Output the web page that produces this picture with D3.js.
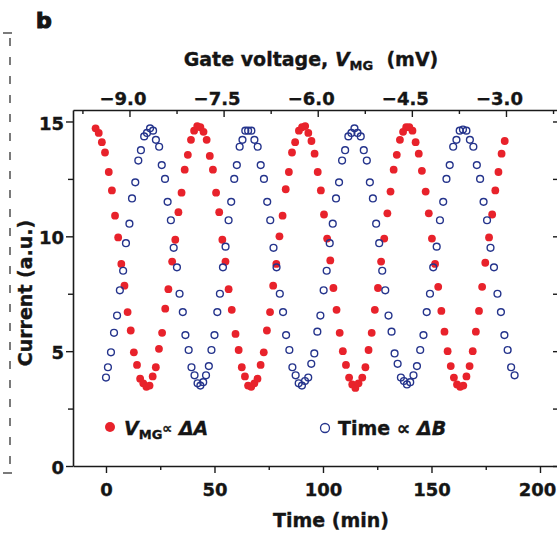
<!DOCTYPE html>
<html>
<head>
<meta charset="utf-8">
<script src="https://cdn.jsdelivr.net/npm/d3@7"></script>
<style>
    body { margin: 0; background: #fff; }
    svg text { font-family: "DejaVu Sans", sans-serif; font-weight: bold; fill: #151515; stroke: #151515; stroke-width: 0.35px; }
</style>
</head>
<body>
<div id="chartDiv"></div>
<script>
// red: current vs gate voltage (top axis), blue: current vs time (bottom axis)
var redGate = [
    -9.54, -9.49, -9.44, -9.39, -9.33, -9.28, -9.23, -9.18, -9.13, -9.08,
    -9.03, -8.98, -8.93, -8.88, -8.83, -8.78, -8.73, -8.68, -8.63, -8.58,
    -8.53, -8.48, -8.43, -8.38, -8.32, -8.27, -8.22, -8.17, -8.12, -8.07,
    -8.02, -7.97, -7.92, -7.87, -7.82, -7.77, -7.72, -7.67, -7.62, -7.57,
    -7.52, -7.47, -7.42, -7.37, -7.31, -7.26, -7.21, -7.16, -7.11, -7.06,
    -7.01, -6.96, -6.91, -6.86, -6.81, -6.76, -6.71, -6.66, -6.61, -6.56,
    -6.51, -6.46, -6.41, -6.36, -6.30, -6.25, -6.20, -6.15, -6.10, -6.05,
    -6.00, -5.95, -5.90, -5.85, -5.80, -5.75, -5.70, -5.65, -5.60, -5.55,
    -5.50, -5.45, -5.40, -5.35, -5.29, -5.24, -5.19, -5.14, -5.09, -5.04,
    -4.99, -4.94, -4.89, -4.84, -4.79, -4.74, -4.69, -4.64, -4.59, -4.54,
    -4.49, -4.44, -4.39, -4.34, -4.28, -4.23, -4.18, -4.13, -4.08, -4.03,
    -3.98, -3.93, -3.88, -3.83, -3.78, -3.73, -3.68, -3.63, -3.58, -3.53,
    -3.48, -3.43, -3.38, -3.33, -3.27, -3.22, -3.17, -3.12, -3.07, -3.02
];
var redCurrent = [
    14.7, 14.5, 14.1, 13.65, 12.8, 12.0, 10.9, 9.95, 8.8, 7.85, 6.7, 5.9, 4.95, 4.4, 3.8, 3.6, 3.45,
    3.5, 3.9, 4.3, 5.1, 5.8, 6.85, 7.7, 8.9, 9.85, 11.05, 11.9, 12.9, 13.55, 14.2, 14.6, 14.8,
    14.75, 14.55, 14.2, 13.5, 12.9, 11.9, 11.05, 9.85, 8.9, 7.7, 6.8, 5.75, 5.05, 4.3, 3.9, 3.5, 3.45,
    3.6, 3.8, 4.4, 4.95, 5.9, 6.7, 7.85, 8.8, 10.0, 10.9, 12.05, 12.8, 13.65, 14.1, 14.6, 14.75,
    14.8, 14.5, 14.15, 13.6, 12.8, 12.0, 10.95, 9.9, 8.95, 7.75, 6.8, 5.8, 5.0, 4.4, 3.85, 3.55, 3.4,
    3.6, 3.85, 4.3, 5.05, 5.8, 6.8, 7.75, 8.9, 9.9, 11.0, 11.95, 12.9, 13.55, 14.2, 14.55, 14.75,
    14.75, 14.6, 14.1, 13.6, 12.85, 11.95, 11.0, 9.9, 8.8, 7.8, 6.75, 5.85, 5.0, 4.35, 3.85, 3.55, 3.45,
    3.5, 3.9, 4.35, 5.0, 5.85, 6.75, 7.8, 8.85, 9.95, 10.95, 12.0, 12.8, 13.6, 14.15
];
var blueTime = [
    0.0, 0.9, 2.3, 3.7, 5.1, 6.4, 7.9, 9.2, 10.8, 12.0, 13.5, 14.9, 16.1, 17.6, 18.9, 20.3,
    21.7, 23.0, 24.5, 25.7, 27.2, 28.4, 29.9, 31.2, 32.7, 33.9, 35.4, 36.6, 38.1, 39.4, 40.8, 42.2, 43.5,
    44.8, 46.1, 47.4, 48.6, 50.0, 51.3, 52.5, 53.9, 55.1, 56.5, 57.7, 59.1, 60.3, 61.6, 62.9, 64.2, 65.5,
    67.0, 68.4, 69.9, 71.3, 72.8, 74.3, 75.7, 77.2, 78.6, 80.1, 81.6, 83.0, 84.5, 85.9, 87.4, 88.8, 90.3,
    91.7, 93.2, 94.6, 96.0, 97.4, 98.8, 100.3, 101.7, 103.1, 104.5, 106.0, 107.4, 108.8, 110.2, 111.7, 113.1, 114.5,
    115.9, 117.4, 118.8, 120.2, 121.6, 123.0, 124.5, 125.9, 127.3, 128.7, 130.2, 131.6, 133.0, 134.4, 135.9, 137.3, 138.7,
    140.2, 141.7, 143.3, 144.8, 146.3, 147.8, 149.3, 150.8, 152.4, 153.9, 155.4, 156.9, 158.4, 160.0, 161.5, 163.0, 164.5,
    166.1, 167.7, 169.3, 170.9, 172.4, 174.0, 175.6, 177.2, 178.8, 180.4, 182.0, 183.6, 185.1, 186.7, 188.3
];
var blueCurrent = [
    3.85, 4.3, 4.95, 5.8, 6.55, 7.65, 8.5, 9.7, 10.55, 11.65, 12.35, 13.3, 13.75, 14.35, 14.5, 14.7,
    14.6, 14.2, 13.9, 13.1, 12.5, 11.5, 10.7, 9.5, 8.65, 7.5, 6.7, 5.7, 5.05, 4.3, 3.95, 3.6, 3.5,
    3.65, 3.95, 4.35, 5.05, 5.7, 6.7, 7.5, 8.65, 9.55, 10.7, 11.5, 12.5, 13.1, 13.9, 14.2, 14.6, 14.6,
    14.6, 14.2, 13.9, 13.1, 12.5, 11.5, 10.7, 9.5, 8.65, 7.5, 6.7, 5.7, 5.05, 4.3, 3.95, 3.6, 3.5,
    3.7, 3.85, 4.45, 4.9, 5.85, 6.55, 7.65, 8.5, 9.7, 10.55, 11.65, 12.35, 13.3, 13.75, 14.35, 14.5, 14.7,
    14.5, 14.35, 13.75, 13.3, 12.35, 11.65, 10.55, 9.7, 8.5, 7.65, 6.55, 5.85, 4.9, 4.45, 3.85, 3.7, 3.55,
    3.65, 3.95, 4.35, 5.05, 5.7, 6.7, 7.5, 8.65, 9.55, 10.7, 11.5, 12.5, 13.1, 13.9, 14.2, 14.6, 14.65,
    14.6, 14.2, 13.9, 13.1, 12.5, 11.5, 10.7, 9.5, 8.65, 7.5, 6.7, 5.7, 5.05, 4.3, 3.95
];

var timeTicks = [0, 50, 100, 150, 200];
var timeMinor = [25, 75, 125, 175];
var gateTicks = [-9.0, -7.5, -6.0, -4.5, -3.0];
var gateMinor = [-9.75, -8.25, -6.75, -5.25, -3.75, -2.25];
var currentTicks = [0, 5, 10, 15];
var currentMinor = [2.5, 7.5, 12.5];
var rightTicks = [0, 2.5, 5, 7.5, 10, 12.5, 15];

var width = 557, height = 534;
var plot = {left: 73, right: 558, top: 110, bottom: 466};
var axisColor = '#1a1a1a';
var redColor = '#e8222b';
var blueColor = '#25348c';

var x, xGate, y;

function gen_scales() {
    x = d3.scaleLinear().domain([-15.2, 208.3]).range([plot.left, plot.right]);
    xGate = d3.scaleLinear().domain([-9.9, -2.171]).range([plot.left, plot.right]);
    y = d3.scaleLinear().domain([0, 15.5]).range([plot.bottom, plot.top]);
}

function style_axis(g, size) {
    g.attr('font-size', size).attr('font-family', null);
    g.select('.domain').attr('stroke', axisColor).attr('stroke-width', 1.6);
    g.selectAll('.tick line').attr('stroke', axisColor).attr('stroke-width', 1.4);
}

function gen_axes(svg) {
    // bottom, time
    var gB = svg.append('g').attr('transform', 'translate(0,' + plot.bottom + ')')
        .call(d3.axisBottom(x).tickValues(timeTicks).tickSize(7).tickSizeOuter(0).tickFormat(d3.format('d')));
    style_axis(gB, 18);
    gB.selectAll('text').attr('y', 29.5).attr('dy', 0)
        .attr('dx', function(d) { return d === 200 ? -3 : 0; });
    var gBm = svg.append('g').attr('transform', 'translate(0,' + plot.bottom + ')')
        .call(d3.axisBottom(x).tickValues(timeMinor).tickSize(4).tickSizeOuter(0).tickFormat(''));
    style_axis(gBm, 18);
    gBm.select('.domain').remove();

    // top, gate voltage
    var gT = svg.append('g').attr('transform', 'translate(0,' + plot.top + ')')
        .call(d3.axisTop(xGate).tickValues(gateTicks).tickSize(-7).tickSizeOuter(0).tickFormat(d3.format('.1f')));
    style_axis(gT, 18);
    gT.selectAll('text').attr('y', -5).attr('dy', 0).attr('dx', -7);
    var gTm = svg.append('g').attr('transform', 'translate(0,' + plot.top + ')')
        .call(d3.axisTop(xGate).tickValues(gateMinor).tickSize(-4).tickSizeOuter(0).tickFormat(''));
    style_axis(gTm, 18);
    gTm.select('.domain').remove();

    // left, current
    var gL = svg.append('g').attr('transform', 'translate(' + plot.left + ',0)')
        .call(d3.axisLeft(y).tickValues(currentTicks).tickSize(7).tickSizeOuter(0).tickFormat(d3.format('d')));
    style_axis(gL, 18);
    gL.selectAll('text').attr('x', -9).attr('dy', '0.42em');
    var gLm = svg.append('g').attr('transform', 'translate(' + plot.left + ',0)')
        .call(d3.axisLeft(y).tickValues(currentMinor).tickSize(5).tickSizeOuter(0).tickFormat(''));
    style_axis(gLm, 18);
    gLm.select('.domain').remove();

    // right, ticks only (pointing in)
    var gR = svg.append('g').attr('transform', 'translate(' + plot.right + ',0)')
        .call(d3.axisLeft(y).tickValues(rightTicks).tickSize(5).tickSizeOuter(0).tickFormat(''));
    style_axis(gR, 18);
}

function gen_titles(svg) {
    svg.append('text').attr('x', 36).attr('y', 28)
        .attr('font-size', 22).style('stroke-width', '1.2px')
        .text('b');

    var t = svg.append('text').attr('x', 311).attr('y', 66)
        .attr('font-size', 19).attr('text-anchor', 'middle');
    t.append('tspan').text('Gate voltage, ');
    t.append('tspan').attr('font-style', 'italic').text('V');
    t.append('tspan').attr('font-size', 13).attr('dy', 4).text('MG');
    t.append('tspan').attr('dy', -4).text('\u00a0 (mV)');

    svg.append('text').attr('x', 331).attr('y', 527)
        .attr('font-size', 19).attr('text-anchor', 'middle')
        .text('Time (min)');

    svg.append('text')
        .attr('transform', 'translate(32,293) rotate(-90)')
        .attr('font-size', 19).attr('text-anchor', 'middle')
        .text('Current (a.u.)');

    // dashed bracket on the left
    svg.append('line').attr('x1', 10).attr('x2', 10).attr('y1', 38).attr('y2', 471)
        .attr('stroke', '#222').attr('stroke-width', 1.2).attr('stroke-dasharray', '8,11');
    svg.append('line').attr('x1', 3).attr('x2', 12).attr('y1', 33).attr('y2', 33)
        .attr('stroke', '#222').attr('stroke-width', 1.2);
    svg.append('line').attr('x1', 3).attr('x2', 12).attr('y1', 473).attr('y2', 473)
        .attr('stroke', '#222').attr('stroke-width', 1.2);
}

function draw_points(svg) {
    svg.append('g').selectAll('circle')
        .data(d3.range(redGate.length))
        .enter().append('circle')
        .attr('cx', function(i) { return xGate(redGate[i]); })
        .attr('cy', function(i) { return y(redCurrent[i]); })
        .attr('r', 3.9)
        .style('fill', redColor);

    svg.append('g').selectAll('circle')
        .data(d3.range(blueTime.length))
        .enter().append('circle')
        .attr('cx', function(i) { return x(blueTime[i]); })
        .attr('cy', function(i) { return y(blueCurrent[i]); })
        .attr('r', 3.4)
        .style('fill', 'none')
        .style('stroke', blueColor)
        .style('stroke-width', 1.4);
}

function draw_legend(svg) {
    svg.append('circle').attr('cx', 110).attr('cy', 427).attr('r', 5).style('fill', redColor);
    var t1 = svg.append('text').attr('x', 124).attr('y', 435).attr('font-size', 19);
    t1.append('tspan').attr('font-style', 'italic').text('V');
    t1.append('tspan').attr('font-size', 13).attr('dy', 4).text('MG');
    t1.append('tspan').attr('font-size', 14).attr('dy', -6).text('\u221d');
    t1.append('tspan').attr('dy', 2).attr('font-style', 'italic').text('\u00a0\u0394A');

    svg.append('circle').attr('cx', 325).attr('cy', 428).attr('r', 4.5)
        .style('fill', 'none').style('stroke', blueColor).style('stroke-width', 1.3);
    svg.append('text').attr('x', 338).attr('y', 435).attr('font-size', 19)
        .text('Time \u221d ')
        .append('tspan').attr('font-style', 'italic').text('\u0394B');
}

gen_scales();
var svg = d3.select('#chartDiv').append('svg')
    .attr('width', width)
    .attr('height', height);
gen_titles(svg);
draw_points(svg);
gen_axes(svg);
draw_legend(svg);
</script>
</body>
</html>
